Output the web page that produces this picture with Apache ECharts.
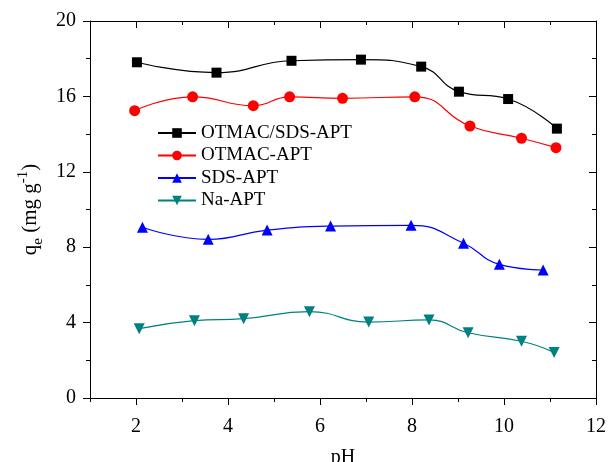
<!DOCTYPE html>
<html>
<head>
<meta charset="utf-8">
<script src="https://cdn.jsdelivr.net/npm/echarts@6/dist/echarts.min.js"></script>
<style>
html,body{margin:0;padding:0;background:#fff;}
#chart{width:608px;height:462px;}
</style>
</head>
<body>
<div id="chart"></div>
<script>
var seriesNames = ['OTMAC/SDS-APT', 'OTMAC-APT', 'SDS-APT', 'Na-APT'];
var otmacSdsX = [2.02, 3.75, 5.38, 6.89, 8.20, 9.02, 10.09, 11.15];
var otmacSdsY = [17.81, 17.26, 17.89, 17.95, 17.58, 16.25, 15.86, 14.29];
var otmacX = [1.97, 3.23, 4.55, 5.34, 6.49, 8.06, 9.26, 10.38, 11.13];
var otmacY = [15.24, 15.98, 15.51, 15.98, 15.90, 15.98, 14.43, 13.78, 13.28];
var sdsX = [2.14, 3.57, 4.85, 6.23, 7.98, 9.12, 9.90, 10.85];
var sdsY = [9.06, 8.42, 8.91, 9.12, 9.16, 8.21, 7.09, 6.79];
var naX = [2.07, 3.27, 4.34, 5.77, 7.06, 8.37, 9.22, 10.38, 11.09];
var naY = [3.68, 4.10, 4.21, 4.58, 4.03, 4.14, 3.46, 3.01, 2.42];
var xMajorTicks = [2, 4, 6, 8, 10, 12];
var xMinorTicks = [1, 3, 5, 7, 9, 11];

var FONT = "'Liberation Serif', 'Times New Roman', serif";
function pairs(xs, ys) { return xs.map(function (x, i) { return [x, ys[i]]; }); }

var colors = ['#000000', '#ff0000', '#0000ff', '#008080'];
var symbols = ['rect', 'circle', 'triangle', 'path://M0,0 L10,0 L5,9 Z'];
var sizes = [10, 11, 11, 11];
var xsList = [otmacSdsX, otmacX, sdsX, naX];
var ysList = [otmacSdsY, otmacY, sdsY, naY];

var series = seriesNames.map(function (n, i) {
  return {
    name: n, type: 'line', xAxisIndex: 0, yAxisIndex: 0,
    data: pairs(xsList[i], ysList[i]),
    smooth: 0.5,
    symbol: symbols[i], symbolSize: sizes[i],
    itemStyle: { color: colors[i] },
    lineStyle: { color: colors[i], width: 1.2 },
    animation: false
  };
});

var axisLineStyle = { color: '#000', width: 1 };
var chart = echarts.init(document.getElementById('chart'));
chart.setOption({
  backgroundColor: '#fff',
  animation: false,
  grid: { left: 90, right: 12, top: 21, bottom: 64, containLabel: false, outerBoundsMode: 'none' },
  legend: {
    left: 152, top: 118, orient: 'vertical',
    itemWidth: 38, itemHeight: 12, itemGap: 2.5,
    textStyle: { fontFamily: FONT, fontSize: 19, color: '#000', lineHeight: 20 },
    data: seriesNames
  },
  xAxis: [
    {
      type: 'value', position: 'bottom', min: 1, max: 12, interval: 1,
      axisLine: { show: true, lineStyle: axisLineStyle },
      axisTick: { show: true, inside: false, length: 7, customValues: xMajorTicks, lineStyle: axisLineStyle },
      axisLabel: { show: true, margin: 19, customValues: xMajorTicks, fontFamily: FONT, fontSize: 20, color: '#000',
        formatter: function (v) { return v % 2 === 0 ? String(v) : ''; } },
      splitLine: { show: false },
      name: 'pH', nameLocation: 'middle', nameGap: 50,
      nameTextStyle: { fontFamily: FONT, fontSize: 20, color: '#000' }
    },
    {
      type: 'value', position: 'bottom', min: 1, max: 12, interval: 1,
      axisLine: { show: false },
      axisTick: { show: true, inside: false, length: 4, customValues: xMinorTicks, lineStyle: axisLineStyle },
      axisLabel: { show: false }, splitLine: { show: false }
    },
    {
      type: 'value', position: 'top', min: 1, max: 12, interval: 1,
      axisLine: { show: true, lineStyle: axisLineStyle },
      axisTick: { show: true, inside: true, length: 7, customValues: xMajorTicks, lineStyle: axisLineStyle },
      axisLabel: { show: false }, splitLine: { show: false }
    },
    {
      type: 'value', position: 'top', min: 1, max: 12, interval: 1,
      axisLine: { show: false },
      axisTick: { show: true, inside: true, length: 4, customValues: xMinorTicks, lineStyle: axisLineStyle },
      axisLabel: { show: false }, splitLine: { show: false }
    }
  ],
  yAxis: [
    {
      type: 'value', position: 'left', min: 0, max: 20, interval: 4,
      axisLine: { show: true, lineStyle: axisLineStyle },
      axisTick: { show: true, inside: false, length: 7, lineStyle: axisLineStyle },
      minorTick: { show: true, splitNumber: 2, length: 4, lineStyle: axisLineStyle },
      axisLabel: { show: true, margin: 14, fontFamily: FONT, fontSize: 20, color: '#000' },
      splitLine: { show: false },
      name: '{q|q}{sub|e}{q| (mg g}{sup|-1}{q|)}', nameLocation: 'middle', nameGap: 33,
      nameTextStyle: {
        fontFamily: FONT, fontSize: 21, color: '#000',
        rich: {
          q: { fontFamily: FONT, fontSize: 21, color: '#000', lineHeight: 30, verticalAlign: 'middle' },
          sub: { fontFamily: FONT, fontSize: 15, color: '#000', lineHeight: 15, verticalAlign: 'bottom' },
          sup: { fontFamily: FONT, fontSize: 15, color: '#000', lineHeight: 15, verticalAlign: 'top' }
        }
      }
    },
    {
      type: 'value', position: 'right', min: 0, max: 20, interval: 4,
      axisLine: { show: true, lineStyle: axisLineStyle },
      axisTick: { show: true, inside: true, length: 7, lineStyle: axisLineStyle },
      minorTick: { show: true, splitNumber: 2, length: 4, lineStyle: axisLineStyle },
      axisLabel: { show: false }, splitLine: { show: false }
    }
  ],
  series: series
});
</script>
</body>
</html>
